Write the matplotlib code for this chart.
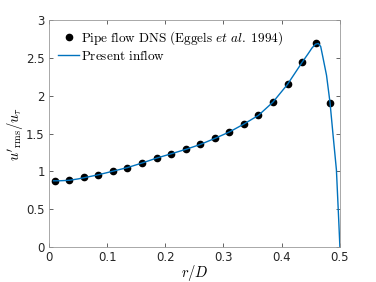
import numpy as np
import matplotlib
matplotlib.use('Agg')
import matplotlib.pyplot as plt

# DNS data (Eggels et al. 1994)
dns_r = [0.010, 0.035, 0.060, 0.085, 0.110, 0.135, 0.160, 0.185, 0.210, 0.235,
         0.260, 0.285, 0.310, 0.335, 0.360, 0.385, 0.410, 0.435, 0.459, 0.483]
dns_u = [0.878, 0.880, 0.920, 0.957, 1.006, 1.050, 1.110, 1.180, 1.235, 1.290,
         1.360, 1.440, 1.520, 1.630, 1.740, 1.920, 2.150, 2.440, 2.690, 1.910]

# present inflow profile
line_r = [0.008, 0.020, 0.035, 0.050, 0.060, 0.085, 0.110, 0.135, 0.160, 0.185,
          0.210, 0.235, 0.260, 0.285, 0.310, 0.335, 0.360, 0.385, 0.410, 0.435,
          0.445, 0.452, 0.458, 0.463, 0.467, 0.471, 0.477, 0.483, 0.488, 0.494,
          0.498, 0.500]
line_u = [0.875, 0.876, 0.882, 0.900, 0.915, 0.955, 1.002, 1.050, 1.110, 1.175,
          1.232, 1.290, 1.355, 1.435, 1.520, 1.625, 1.740, 1.915, 2.150, 2.440,
          2.550, 2.630, 2.680, 2.690, 2.650, 2.500, 2.270, 1.910, 1.500, 1.020,
          0.350, 0.0]

plt.rcParams['mathtext.fontset'] = 'cm'
plt.rcParams['font.family'] = ['DejaVu Sans']

fig = plt.figure(figsize=(3.76, 2.82), dpi=100)
ax = fig.add_axes([0.130, 0.124, 0.774, 0.805])

ax.plot(dns_r, dns_u, 'o', color='k', ms=4.5, zorder=3,
        label=r'$\mathrm{Pipe\ flow\ DNS\ (Eggels\ }\mathit{et\ al.}\mathrm{\ 1994)}$')
ax.plot(line_r, line_u, '-', color='#0072BD', lw=1.0, zorder=4,
        label=r'$\mathrm{Present\ inflow}$')

ax.set_xlim(0, 0.5)
ax.set_ylim(0, 3)
ax.set_xticks(np.arange(0, 0.51, 0.1))
ax.set_xticklabels(['0', '0.1', '0.2', '0.3', '0.4', '0.5'])
ax.set_yticks([0, 0.5, 1, 1.5, 2, 2.5, 3])
ax.set_yticklabels(['0', '0.5', '1', '1.5', '2', '2.5', '3'])
ax.tick_params(direction='in', length=3, width=0.5, labelsize=8.5,
               top=True, right=True, colors='#262626', pad=3)
for s in ax.spines.values():
    s.set_color('#9a9a9a')
    s.set_linewidth(0.6)

ax.set_xlabel(r'$r/D$', fontsize=10.5, labelpad=-1)
ax.set_ylabel(r"$u'_{\mathrm{rms}}/u_\tau$", fontsize=10.5, labelpad=1)

ax.legend(loc='upper left', frameon=False, fontsize=9.5, handlelength=1.6,
          handletextpad=0.1, borderaxespad=0.3, labelspacing=0.15,
          bbox_to_anchor=(0.0, 1.0))

fig.savefig('out.png', dpi=100)
